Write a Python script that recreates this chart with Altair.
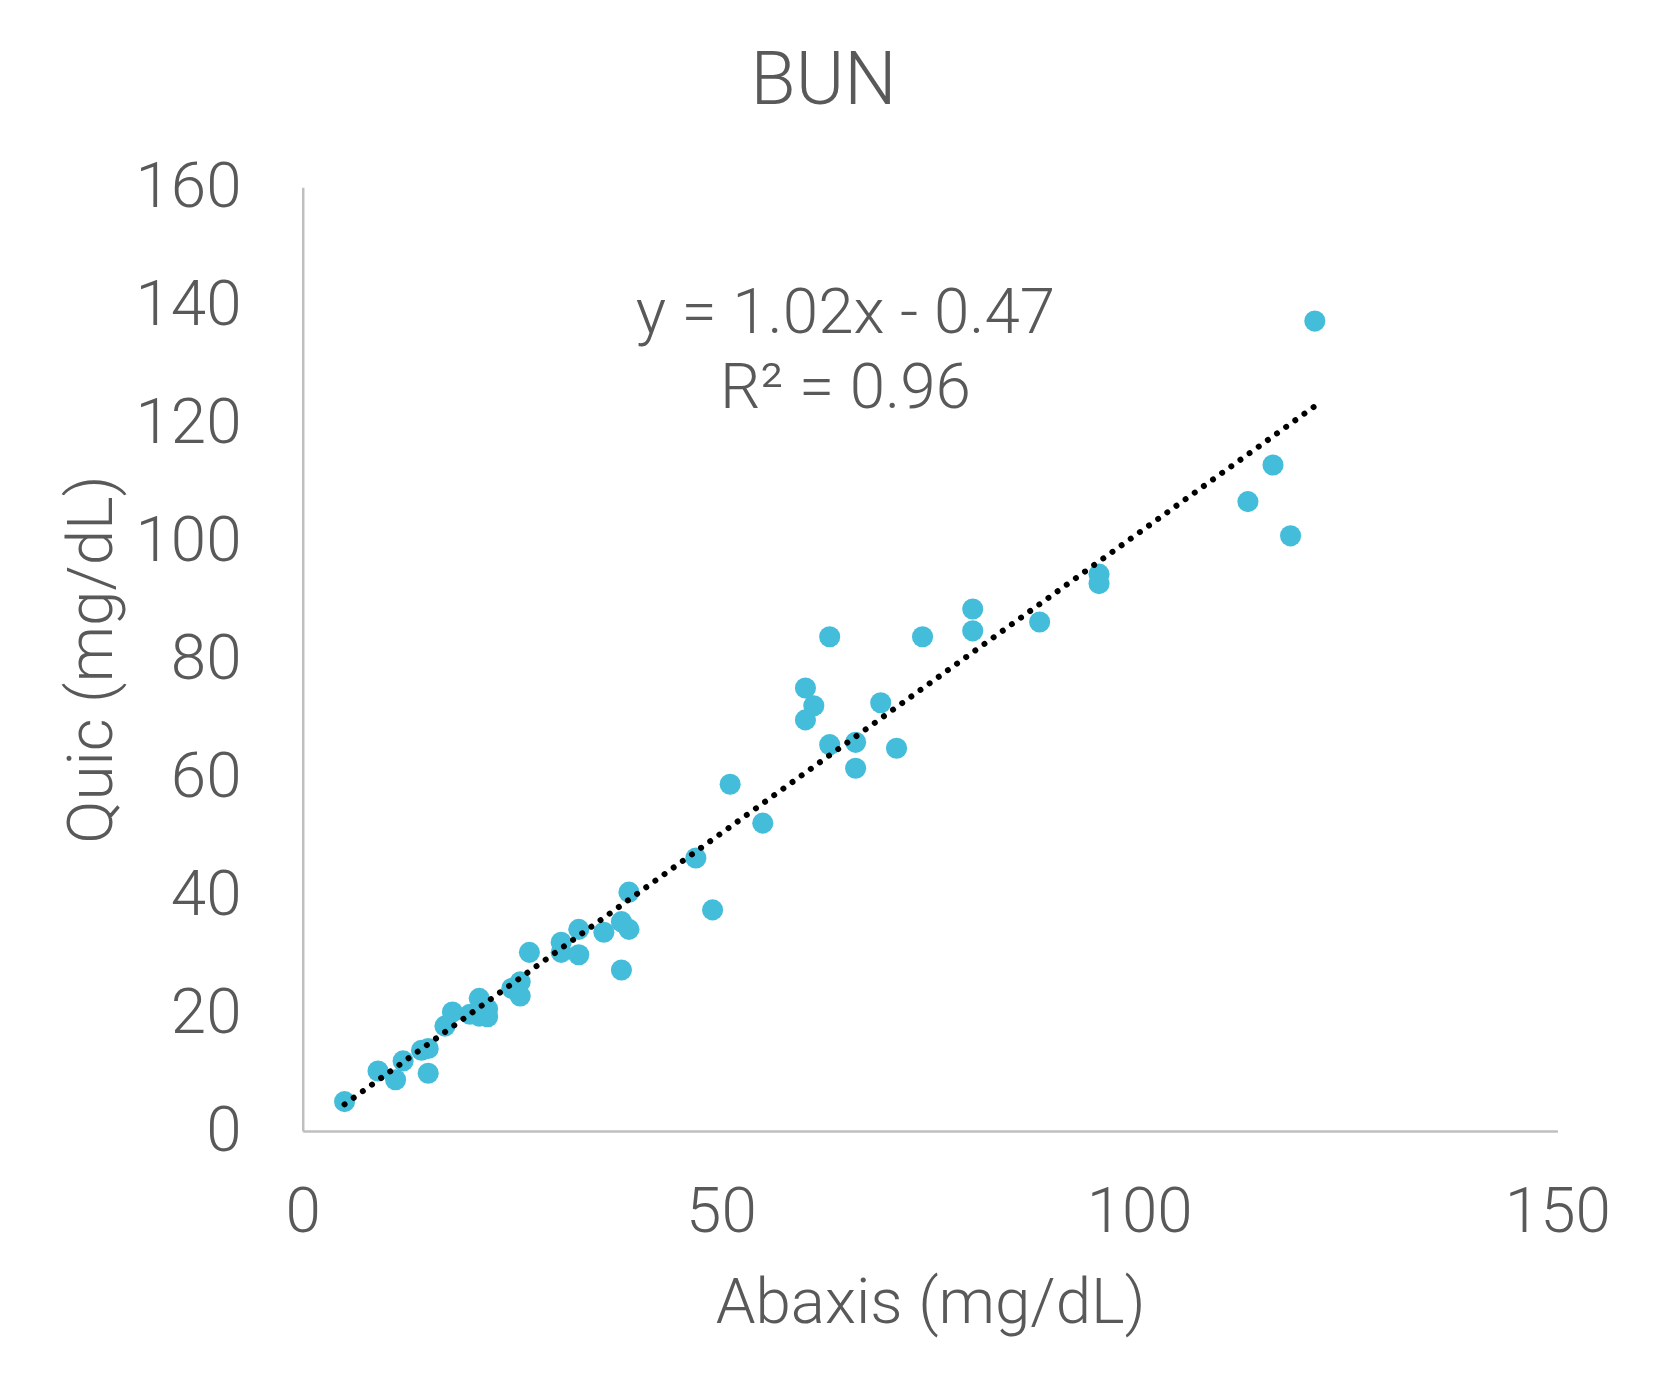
import altair as alt
import pandas as pd

# ---- data ----
abaxis = [5.0, 9.0, 11.1, 12.0, 14.2, 15.0, 15.0, 17.0, 17.9, 20.0,
          21.1, 21.1, 22.1, 22.1, 25.0, 26.0, 26.0, 27.1, 30.9, 30.9,
          33.0, 33.0, 36.0, 38.1, 38.1, 39.0, 39.0, 47.0, 49.0, 51.1,
          55.0, 60.1, 60.1, 61.1, 63.0, 63.0, 66.1, 66.1, 69.1, 71.0,
          74.1, 80.1, 80.1, 88.1, 95.2, 95.2, 113.0, 116.0, 118.1, 121.0]
quic = [5.0, 10.2, 8.7, 11.9, 13.7, 14.0, 9.8, 17.8, 20.2, 19.8,
        22.5, 19.5, 20.7, 19.4, 24.2, 25.3, 22.9, 30.3, 32.0, 30.3,
        34.2, 29.9, 33.7, 35.5, 27.3, 40.5, 34.2, 46.3, 37.5, 58.8,
        52.2, 75.1, 69.7, 72.1, 83.8, 65.5, 65.9, 61.5, 72.6, 64.9,
        83.8, 88.5, 84.8, 86.3, 94.4, 92.8, 106.7, 112.9, 100.9, 137.3]

chart_title = "BUN"
x_title = "Abaxis (mg/dL)"
y_title = "Quic (mg/dL)"
equation_lines = ["y = 1.02x - 0.47", "R² = 0.96"]
x_ticks = [0, 50, 100, 150]
y_ticks = [0, 20, 40, 60, 80, 100, 120, 140, 160]

TEXT = "#595959"
FONT = "Roboto"
POINT = "#44BDDB"

df = pd.DataFrame({"Abaxis": abaxis, "Quic": quic})

W, H = 1260, 948

x_enc = alt.X(
    "Abaxis:Q",
    scale=alt.Scale(domain=[0, 150], nice=False, zero=True),
    axis=alt.Axis(
        values=x_ticks, title=x_title, labelPadding=50,
        titleY=192, titleBaseline="alphabetic",
        labelFlush=False, labelOverlap=False,
    ),
)
y_enc = alt.Y(
    "Quic:Q",
    scale=alt.Scale(domain=[0, 160], nice=False, zero=True),
    axis=alt.Axis(
        values=y_ticks, title=y_title, labelPadding=62,
        titleX=-192, titleY=H / 2, titleAngle=-90,
        titleBaseline="alphabetic", titleAlign="center",
        labelFlush=False, labelOverlap=False,
    ),
)

points = alt.Chart(df).mark_circle(size=450, color=POINT, opacity=1).encode(
    x=x_enc, y=y_enc
)

trend = (
    alt.Chart(df)
    .transform_regression("Abaxis", "Quic")
    .mark_line(color="black", strokeWidth=6, strokeDash=[0.01, 11.3], strokeCap="round")
    .encode(x="Abaxis:Q", y="Quic:Q")
)

eq_df = pd.DataFrame({"label": [equation_lines]})
equation = alt.Chart(eq_df).mark_text(
    font=FONT, fontWeight=300, fontSize=64, color=TEXT,
    align="center", baseline="alphabetic", lineHeight=76,
).encode(text="label", x=alt.value(545), y=alt.value(146))

chart = (
    alt.layer(points, trend, equation)
    .properties(
        width=W, height=H,
        autosize=alt.AutoSizeParams(type="none"),
        padding={"left": 296, "top": 177, "right": 90, "bottom": 240},
        title=alt.TitleParams(
            chart_title, font=FONT, fontWeight=300, fontSize=74, color=TEXT,
            anchor="middle", dx=-107, baseline="alphabetic", offset=-22,
        ),
    )
    .configure_axis(
        domainColor="#BFBFBF", domainWidth=2.5, ticks=False, grid=False,
        labelFont=FONT, labelFontWeight=300, labelFontSize=64, labelColor=TEXT,
        titleFont=FONT, titleFontWeight=300, titleFontSize=64, titleColor=TEXT,
    )
    .configure_view(stroke="transparent")
)

chart.save("out.html", embed_options={"renderer": "svg", "actions": False})
